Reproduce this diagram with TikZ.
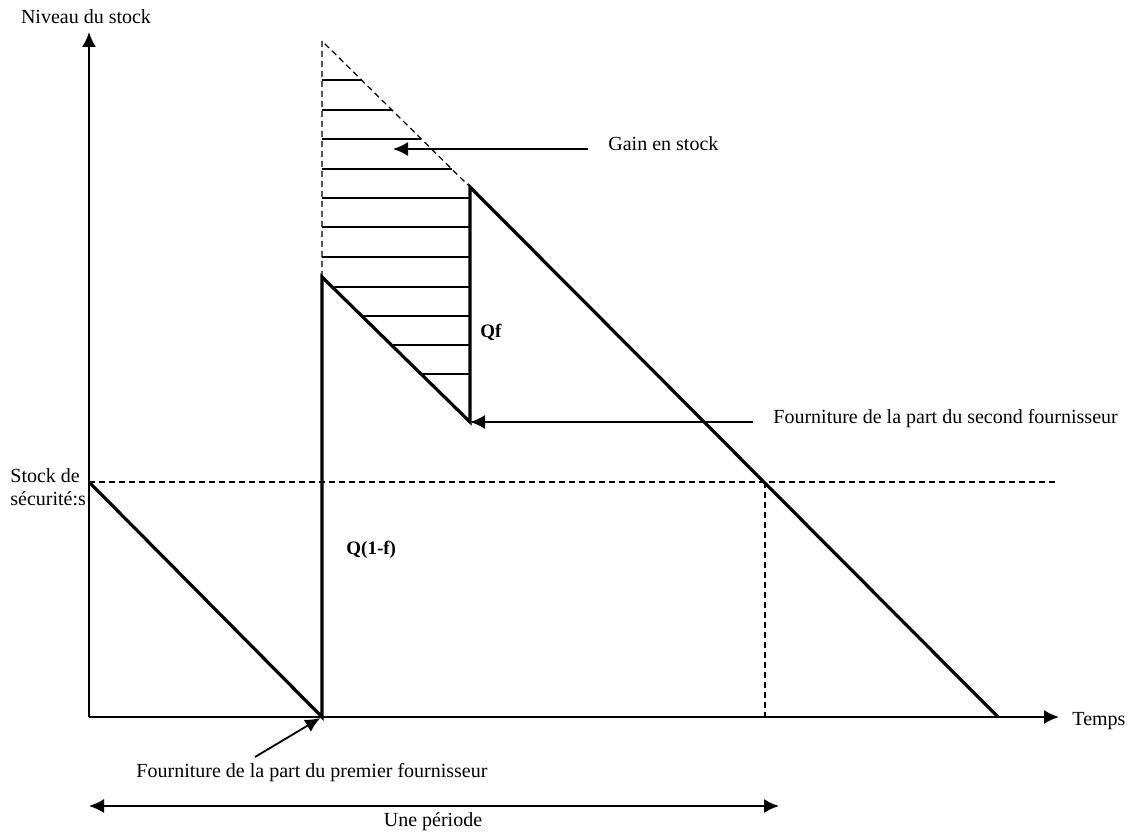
\documentclass[tikz,border=0pt]{standalone}
\usepackage{fontspec}
\setmainfont{Liberation Serif}
\usetikzlibrary{arrows.meta}

\tikzset{
  stockline/.style={line width=1.6pt},
  pointe/.tip={Latex[length=7.5pt,width=7pt]},
  axe/.style={line width=1pt,-pointe},
  fleche/.style={line width=0.9pt,-pointe},
  pointille/.style={line width=0.6pt,dash pattern=on 3pt off 2pt},
  hachure/.style={line width=0.7pt},
  txt/.style={font=\fontsize{10}{11.5}\selectfont,inner sep=0pt},
  qlabel/.style={font=\fontsize{9.5}{10}\selectfont\bfseries,inner sep=0pt}
}

\begin{document}
\begin{tikzpicture}[x=0.5pt,y=-0.5pt]
\useasboundingbox (0,0) rectangle (1128,833);

% points of the curve
\coordinate (O) at (89,717);
\coordinate (ytip) at (89,32);
\coordinate (xtip) at (1059,717);
\coordinate (A) at (89,482);
\coordinate (B) at (322,717);
\coordinate (C) at (322,277);
\coordinate (D) at (470,422);
\coordinate (E) at (470,187);
\coordinate (F) at (998,717);
\coordinate (T) at (322,41);
\coordinate (S) at (765,482);
\coordinate (Sbas) at (765,717);
\coordinate (Sfin) at (1058,482);

% axes
\draw[axe] (O) -- (ytip);
\draw[axe] (O) -- (xtip);

% stock level
\draw[stockline] (A) -- (B) -- (C) -- (D) -- (E) -- (F);

% without the second supplier
\draw[pointille] (C) -- (T) -- (E);
\draw[pointille] (A) -- (Sfin);
\draw[pointille] (S) -- (Sbas);

% hatching
\foreach \y in {80,110,139,169,198,227,257,287,316,345,374}{
  \pgfmathsetmacro{\xg}{322+max(0,\y-277)/145*148}
  \pgfmathsetmacro{\xd}{min(470,322+(\y-41)/146*148)}
  \draw[hachure] (\xg,\y) -- (\xd,\y);
}

% labels
\node[txt] (niveau) at (86,17) {Niveau du stock};
\node[txt,anchor=west] (temps) at (1072,721) {Temps};
\node[txt,anchor=west,align=left] (secu) at (10,487) {Stock de\\sécurité:s};
\node[txt,anchor=west] (gain) at (608,144) {Gain en stock};
\node[qlabel,anchor=west] (qf) at (480,332) {Qf};
\node[qlabel,anchor=west] (qunf) at (346,550) {Q(1-f)};
\node[txt,anchor=west] (second) at (773,419) {Fourniture de la part du second fournisseur};
\node[txt] (premier) at (312,773) {Fourniture de la part du premier fournisseur};
\node[txt] (periode) at (433,822) {Une période};

% arrows of the labels
\coordinate (gaindeb) at (588,149);
\coordinate (gainfin) at (393,149);
\coordinate (secdeb) at (753,422);
\coordinate (premdeb) at (255,757);
\coordinate (pergauche) at (89,806);
\coordinate (perdroite) at (779,806);

\draw[fleche] (gaindeb) -- (gainfin);
\draw[fleche] (secdeb) -- (D);
\draw[fleche,shorten >=1pt] (premdeb) -- (B);
\draw[fleche,pointe-pointe] (pergauche) -- (perdroite);

\end{tikzpicture}
\end{document}
